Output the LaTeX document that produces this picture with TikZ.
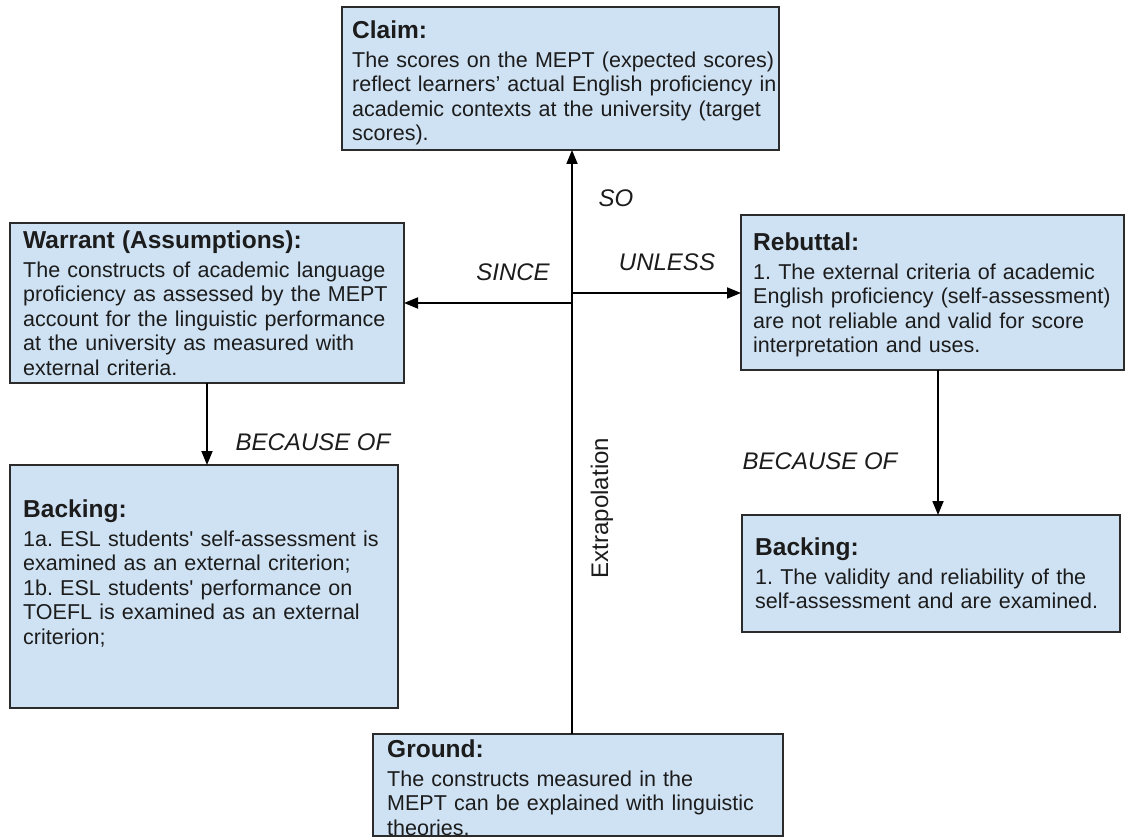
\documentclass[tikz,border=0pt]{standalone}
\usepackage{fontspec}
\setmainfont{Liberation Sans}
\usetikzlibrary{arrows.meta}
\definecolor{boxfill}{HTML}{CFE2F3}
\definecolor{edge}{HTML}{2B2B2B}
\definecolor{ink}{HTML}{1C1C1C}
\newcommand\boxhead[1]{{\fontsize{24.5}{28}\selectfont\bfseries\rule{0pt}{18pt}#1}\\[4.5pt]}
\frenchspacing
\begin{document}
\begin{tikzpicture}[x=1pt,y=-1pt,
 box/.style={draw=edge, line width=1.8pt, fill=boxfill, anchor=north west, inner sep=0pt, outer sep=0pt},
 txt/.style={anchor=north west, inner sep=0pt, text width=430pt, align=left, text=ink, font=\fontsize{21.5}{24.5}\selectfont},
 lbl/.style={text=ink, inner sep=0pt, font=\fontsize{24}{28}\selectfont\itshape},
 arr/.style={draw=black, line width=1.8pt, -{Triangle[length=14pt,width=11pt]}},
]
\useasboundingbox (0,0) rectangle (1127,837);
\fill[white] (0,0) rectangle (1127,837);

% boxes
\node[box, minimum width=437pt, minimum height=143pt] (claim) at (342,7) {};
\node[box, minimum width=394pt, minimum height=160pt] (warrant) at (10,223) {};
\node[box, minimum width=383pt, minimum height=155pt] (rebuttal) at (741,215) {};
\node[box, minimum width=388pt, minimum height=243pt] (backL) at (10,465) {};
\node[box, minimum width=378pt, minimum height=117pt] (backR) at (742,515) {};
\node[box, minimum width=410pt, minimum height=102pt] (ground) at (373,734) {};

% texts
\node[txt] (claimT) at (352,20) {\boxhead{Claim:}The scores on the MEPT (expected scores)\\reflect learners’ actual English proficiency in\\academic contexts at the university (target\\scores).};
\node[txt] (warrantT) at (23,230) {\boxhead{Warrant (Assumptions):}The constructs of academic language\\proficiency as assessed by the MEPT\\account for the linguistic performance\\at the university as measured with\\external criteria.};
\node[txt] (rebuttalT) at (753,232) {\boxhead{Rebuttal:}1. The external criteria of academic\\English proficiency (self-assessment)\\are not reliable and valid for score\\interpretation and uses.};
\node[txt] (backLT) at (23,499) {\boxhead{Backing:}1a. ESL students\textquotesingle{} self-assessment is\\examined as an external criterion;\\1b. ESL students\textquotesingle{} performance on\\TOEFL is examined as an external\\criterion;};
\node[txt] (backRT) at (755,537) {\boxhead{Backing:}1. The validity and reliability of the\\self-assessment and are examined.};
\node[txt] (groundT) at (387,739) {\boxhead{Ground:}The constructs measured in the\\MEPT can be explained with linguistic\\theories.};

% connectors
\coordinate (vx) at (572,0);
\coordinate (sinceS) at (572,303);
\coordinate (unlessS) at (572,293);
\coordinate (wx) at (207,0);
\coordinate (rx) at (938,0);
\draw[arr] (ground.north -| vx) -- (claim.south -| vx);
\draw[arr] (sinceS) -- (sinceS -| warrant.east);
\draw[arr] (unlessS) -- (unlessS -| rebuttal.west);
\draw[arr] (warrant.south -| wx) -- (backL.north -| wx);
\draw[arr] (rebuttal.south -| rx) -- (backR.north -| rx);

% labels
\node[lbl] (so) at (616,198) {SO};
\node[lbl] (unless) at (667,262) {UNLESS};
\node[lbl] (since) at (513,272) {SINCE};
\node[lbl] (becL) at (313,442) {BECAUSE OF};
\node[lbl] (becR) at (820,461) {BECAUSE OF};
\node[lbl, font=\fontsize{24}{28}\selectfont, rotate=90] (extra) at (602,508) {Extrapolation};
\end{tikzpicture}
\end{document}
